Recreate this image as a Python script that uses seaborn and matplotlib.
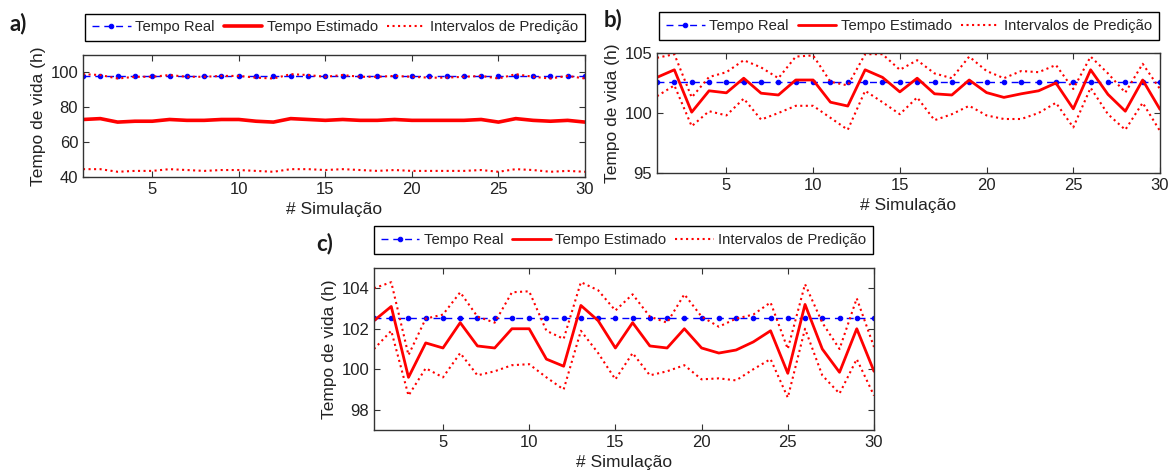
import pandas as pd
import matplotlib
matplotlib.use("Agg")
import matplotlib.pyplot as plt
import seaborn as sns

# eixo x: numero da simulacao
simulacao = list(range(1, 31))

# painel a)
real_a = [98.2] * 30
est_a = [73.0, 73.5, 71.5, 72.0, 72.0, 73.0, 72.5, 72.5, 73.0, 73.0, 72.0, 71.5, 73.5, 73.0, 72.5,
         73.0, 72.5, 72.5, 73.0, 72.5, 72.5, 72.5, 72.5, 73.0, 71.5, 73.5, 72.5, 72.0, 72.5, 71.5]
sup_a = [99.0, 98.5, 96.5, 97.5, 97.5, 98.5, 97.5, 97.5, 98.0, 98.0, 97.0, 96.5, 99.0, 98.5, 97.5,
         98.5, 97.5, 97.5, 98.0, 97.5, 97.0, 97.0, 97.5, 98.0, 96.5, 99.0, 97.5, 96.5, 98.0, 96.5]
inf_a = [44.5, 44.5, 43.0, 43.5, 43.5, 44.5, 44.0, 43.5, 44.0, 44.0, 43.5, 43.0, 44.5, 44.5, 44.0,
         44.5, 44.0, 43.5, 44.0, 43.5, 43.5, 43.5, 43.5, 44.0, 43.0, 44.5, 44.0, 43.0, 43.5, 43.0]

# painel b)
real_b = [102.55] * 30
est_b = [102.97, 103.6, 100.07, 101.85, 101.68, 102.9, 101.65, 101.5, 102.75, 102.75, 100.9, 100.58,
         103.6, 102.97, 101.76, 102.9, 101.6, 101.5, 102.75, 101.7, 101.3, 101.6, 101.85, 102.5,
         100.35, 103.6, 101.55, 100.15, 102.75, 100.3]
sup_b = [104.6, 104.9, 101.3, 103.0, 103.4, 104.4, 103.8, 102.9, 104.7, 104.8, 102.6, 102.3, 104.9,
         104.9, 103.6, 104.4, 103.3, 102.9, 104.7, 103.5, 102.9, 103.5, 103.4, 104.0, 102.0, 104.7,
         103.3, 101.7, 104.1, 102.0]
inf_b = [101.4, 102.3, 98.9, 100.15, 99.8, 101.2, 99.45, 100.0, 100.6, 100.6, 99.6, 98.6, 101.85,
         100.9, 99.9, 101.3, 99.4, 99.9, 100.6, 99.8, 99.5, 99.5, 100.0, 100.85, 98.8, 102.1, 99.9,
         98.6, 100.85, 98.5]

# painel c)
real_c = [102.52] * 30
est_c = [102.4, 103.1, 99.6, 101.3, 101.05, 102.3, 101.15, 101.05, 102.0, 102.0, 100.5, 100.15,
         103.15, 102.4, 101.05, 102.3, 101.15, 101.05, 102.0, 101.05, 100.8, 100.95, 101.35, 101.9,
         99.8, 103.2, 101.0, 99.85, 102.0, 99.9]
sup_c = [104.0, 104.3, 100.7, 102.5, 102.7, 103.8, 102.6, 102.3, 103.8, 103.85, 101.9, 101.5, 104.3,
         103.9, 102.9, 103.7, 102.6, 102.3, 103.7, 102.6, 102.1, 102.5, 102.7, 103.3, 101.0, 104.2,
         102.3, 101.0, 103.5, 101.1]
inf_c = [101.0, 101.9, 98.7, 100.05, 99.6, 100.8, 99.7, 99.9, 100.2, 100.25, 99.6, 99.0, 101.9,
         100.8, 99.5, 100.8, 99.7, 99.9, 100.2, 99.5, 99.55, 99.45, 100.0, 100.5, 98.6, 102.0, 99.7,
         98.8, 100.5, 98.7]

legendas = ["Tempo Real", "Tempo Estimado", "Intervalos de Predição"]

sns.set_style("ticks")
plt.rcParams['font.family'] = ['Liberation Sans', 'DejaVu Sans']

fig = plt.figure(figsize=(11.68, 4.72), dpi=100)
W, H = 1168.0, 472.0


def painel(px, leg_px, real, est, sup, inf, ylim, yticks, letra, letra_px, lw_est=2.0):
    x0, y0, x1, y1 = px
    ax = fig.add_axes([x0 / W, 1 - y1 / H, (x1 - x0) / W, (y1 - y0) / H])
    df = pd.DataFrame({"sim": simulacao, "real": real, "est": est, "sup": sup, "inf": inf})
    sns.lineplot(data=df, x="sim", y="real", ax=ax, color="blue", lw=1,
                 marker=".", markersize=6.5, markeredgecolor="blue")
    sns.lineplot(data=df, x="sim", y="est", ax=ax, color="red", lw=lw_est)
    sns.lineplot(data=df, x="sim", y="sup", ax=ax, color="red", linestyle=":", lw=1.5)
    sns.lineplot(data=df, x="sim", y="inf", ax=ax, color="red", linestyle=":", lw=1.5)
    ax.get_lines()[0].set_linestyle((0, (5, 3.5)))
    ax.set_xlim(1, 30)
    ax.set_ylim(*ylim)
    ax.set_xticks([5, 10, 15, 20, 25, 30])
    ax.set_yticks(yticks)
    ax.tick_params(direction="in", top=True, right=True, length=4, labelsize=12,
                   colors="#333333", labelcolor="#222222")
    for s in ax.spines.values():
        s.set_color("#333333")
        s.set_linewidth(1)
    ax.set_xlabel("# Simulação", fontsize=12.5, color="#222222", labelpad=4)
    ax.set_ylabel("Tempo de vida (h)", fontsize=12.5, color="#222222", labelpad=3)

    lx0, ly0, lx1, ly1 = leg_px
    handles = ax.get_lines()[:3]
    leg = ax.legend(handles, legendas, loc="center", ncol=3,
                    bbox_to_anchor=(lx0 / W, 1 - ly1 / H, (lx1 - lx0) / W, (ly1 - ly0) / H),
                    bbox_transform=fig.transFigure, fancybox=False, edgecolor="black",
                    framealpha=1, fontsize=10.7, handlelength=2.6, handletextpad=0.3,
                    columnspacing=0.6, borderaxespad=0, borderpad=0.45)
    leg.get_frame().set_linewidth(1)
    fig.text(letra_px[0] / W, 1 - letra_px[1] / H, letra, fontsize=16, fontweight="bold",
             family=["Lato", "DejaVu Sans"], color="#1a1a1a", ha="left", va="center")
    return ax


painel((83, 55, 585, 177), (83, 14, 587, 41), real_a, est_a, sup_a, inf_a,
       (40, 110), [40, 60, 80, 100], "a)", (9, 24), lw_est=2.6)
painel((657, 53, 1160, 173), (658, 13, 1160, 39), real_b, est_b, sup_b, inf_b,
       (95, 105), [95, 100, 105], "b)", (604, 20))
painel((374, 268, 874, 430), (373, 227, 874, 253), real_c, est_c, sup_c, inf_c,
       (97, 105), [98, 100, 102, 104], "c)", (316, 244))

fig.savefig("out.png", dpi=100)
